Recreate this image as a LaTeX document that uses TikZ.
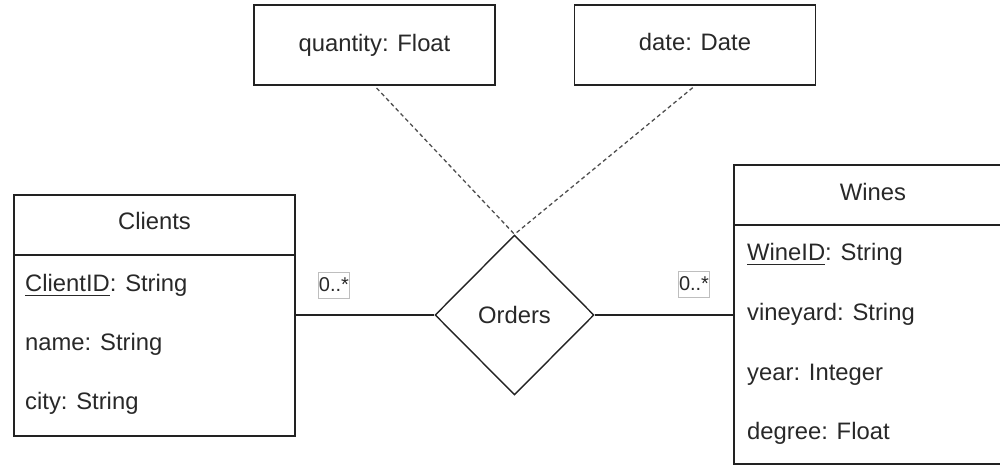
\documentclass[tikz,border=0pt]{standalone}
\usepackage{fontspec}
\setmainfont{Liberation Sans}
\usetikzlibrary{shapes.geometric}
\definecolor{ink}{RGB}{34,34,34}
\definecolor{txt}{RGB}{40,40,40}
\definecolor{tagline}{RGB}{190,190,190}
% underlined key attribute
\newcommand\keyattr[1]{\setbox0\hbox{#1}\rlap{\rule[-5pt]{\wd0}{1.3pt}}\box0}
\begin{document}
\begin{tikzpicture}[x=1pt, y=-1pt,
  font=\fontsize{23.8}{28}\selectfont, text=txt,
  entity/.style={draw=ink, line width=1.6pt, rectangle, inner sep=0pt},
  attrbox/.style={draw=ink, line width=1.6pt, rectangle, inner sep=0pt,
    minimum width=241pt, minimum height=80pt},
  attr/.style={anchor=base west, inner sep=0pt},
  title/.style={anchor=base, inner sep=0pt},
  relation/.style={draw=ink, line width=1.4pt, diamond, aspect=1, inner sep=0pt,
    minimum width=159pt, minimum height=160pt},
  link/.style={draw=ink, line width=1.5pt},
  attrlink/.style={draw=ink!80, line width=1.3pt, dash pattern=on 4pt off 3pt, shorten <=3pt},
  mult/.style={draw=tagline, line width=0.8pt, rectangle, inner sep=0pt,
    minimum width=31pt, minimum height=26pt, font=\fontsize{20}{24}\selectfont}
]
\useasboundingbox (0,0) rectangle (1000,466);
\clip (0,0) rectangle (1000,466);

% Clients entity
\node[entity, minimum width=281pt, minimum height=241pt] (clients) at (154.5,315.5) {};
\draw[ink, line width=1.4pt] (clients.west |- 0,255) coordinate (cdivL) -- (clients.east |- 0,255) coordinate (cdivR);
\node[title] (clientsT) at (154.5,229.5) {Clients};
\node[attr] (clientID) at (25,291) {\keyattr{ClientID}: String};
\node[attr] (cname) at (25,350) {name: String};
\node[attr] (ccity) at (25,409) {city: String};

% Wines entity
\node[entity, minimum width=278pt, minimum height=299pt] (wines) at (873,314.5) {};
\draw[ink, line width=1.4pt] (wines.west |- 0,225) coordinate (wdivL) -- (wines.east |- 0,225) coordinate (wdivR);
\node[title] (winesT) at (873,200) {Wines};
\node[attr] (wineID) at (747,260) {\keyattr{WineID}: String};
\node[attr] (wvineyard) at (747,320) {vineyard: String};
\node[attr] (wyear) at (747,380) {year: Integer};
\node[attr] (wdegree) at (747,439) {degree: Float};

% Orders relationship
\node[relation] (orders) at (514.5,315) {Orders};

% Relationship attributes
\node[attrbox] (quantity) at (374.5,45) {};
\node[title] (quantityT) at (374.5,51) {quantity: Float};
\node[attrbox] (date) at (695,45) {};
\node[title] (dateT) at (695,50) {date: Date};

% Connectors
\draw[link] (clients.east |- orders.west) -- (orders.west);
\draw[link] (orders.east) -- (wines.west |- orders.east);
\draw[attrlink] (quantity.south) -- (orders.north);
\draw[attrlink] (date.south) -- (orders.north);

% Multiplicities
\node[mult] (mClients) at (334,285) {0..*};
\node[mult] (mWines) at (694,284) {0..*};
\end{tikzpicture}
\end{document}
